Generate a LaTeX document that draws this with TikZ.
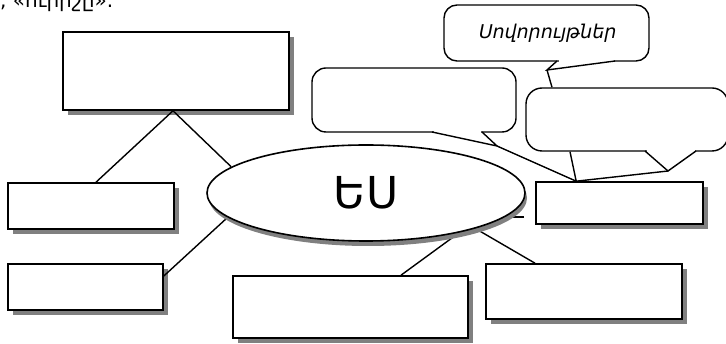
\documentclass[tikz,border=0pt]{standalone}
\usepackage{fontspec}
\setmainfont{DejaVu Sans}
\newfontfamily\armsans{DejaVu Sans}
\newfontfamily\armslant[FakeSlant=0.2]{DejaVu Sans}
\usetikzlibrary{shapes.geometric,shadows}
\pgfdeclarelayer{front}
\pgfsetlayers{main,front}
\begin{document}
\begin{tikzpicture}[x=1pt,y=-1pt,
  box/.style={draw=black, fill=white, rectangle, inner sep=0pt, line width=1.6pt,
    drop shadow={shadow xshift=5pt, shadow yshift=-5pt, fill=black!50, opacity=1}},
  link/.style={draw=black, line width=1.4pt},
  bubblebody/.style={draw=black, fill=white, rectangle, inner sep=0pt, line width=1.4pt},
  erase/.style={draw=white, line width=2.6pt},
  tail/.style={draw=black, line width=1.4pt, line join=miter}]
\useasboundingbox (0,0) rectangle (726,344);
\fill[white] (0,0) rectangle (726,344);

% line of text above the picture, cut by the edge as in the reference
\node[anchor=base west, inner sep=0pt, font=\armsans\fontsize{20}{24}\selectfont] (toptext) at (0,8) {, «ուրիշը».};

% boxes
\node[box, minimum width=226pt, minimum height=78pt] (top) at (176,71) {};
\node[box, minimum width=166pt, minimum height=46pt] (l1) at (91,206) {};
\node[box, minimum width=155pt, minimum height=46pt] (l2) at (85.5,287) {};
\node[box, minimum width=235pt, minimum height=62pt] (b1) at (350.5,307) {};
\node[box, minimum width=196pt, minimum height=55pt] (b2) at (584,291.5) {};
\node[box, minimum width=167pt, minimum height=42pt] (r) at (619.5,203) {};

% ellipse (front layer)
\begin{pgfonlayer}{front}
\node[ellipse, draw=black, fill=white, line width=1.6pt, inner sep=0pt,
  minimum width=318pt, minimum height=96pt,
  drop shadow={shadow xshift=2pt, shadow yshift=-5pt, fill=black!50, opacity=1},
  font=\armsans\fontsize{44}{48}\selectfont] (e) at (366,193) {ԵՍ};
\end{pgfonlayer}

% connectors
\draw[link] ([xshift=-3pt]top.south) -- ([xshift=5pt]l1.north);
\draw[link] ([xshift=-3pt]top.south) -- (e.169);
\draw[link] ([yshift=11pt]l2.east) -- (e.190);
\draw[link] ([xshift=50.5pt]b1.north) -- (e.-23);
\draw[link] ([xshift=-49pt]b2.north) -- (e.-18);
\coordinate (stub) at (524,217);
\draw[link] (stub) -- (stub -| e.center);

% callouts
\node[bubblebody, rounded corners=14pt, minimum width=204pt, minimum height=64pt] (cB) at (414,100) {};
\node[bubblebody, rounded corners=16pt, minimum width=202pt, minimum height=63pt] (cC) at (627,119.5) {};
\node[bubblebody, rounded corners=13pt, minimum width=205pt, minimum height=56pt,
  font=\armslant\fontsize{19}{22}\selectfont] (cA) at (546.5,33) {Սովորույթներ};

\coordinate (tipA) at (547,70);
\coordinate (tipB) at (497,146);
\coordinate (tipC) at (668,171);
\coordinate (J) at ([xshift=41pt]r.north west);

% callout A pointer
\draw[erase] (558.5,61) -- (613.5,61);
\draw[tail] (557,61) -- (tipA) -- (615,61);
% callout B pointer
\draw[erase] (433.5,132) -- (480.5,132);
\draw[tail] (432,132) -- (tipB) -- (482,132);
% callout C pointer
\draw[erase] (646.5,151) -- (694.5,151);
\draw[tail] (645,151) -- (tipC) -- (696,151);

% callout connectors
\draw[link] (tipA) -- ([xshift=-75pt]cC.north);
\draw[link] (tipB) -- (J);
\draw[link] (tipC) -- (J);
\draw[link] ([xshift=-57pt]cC.south) -- (J);
\end{tikzpicture}
\end{document}
